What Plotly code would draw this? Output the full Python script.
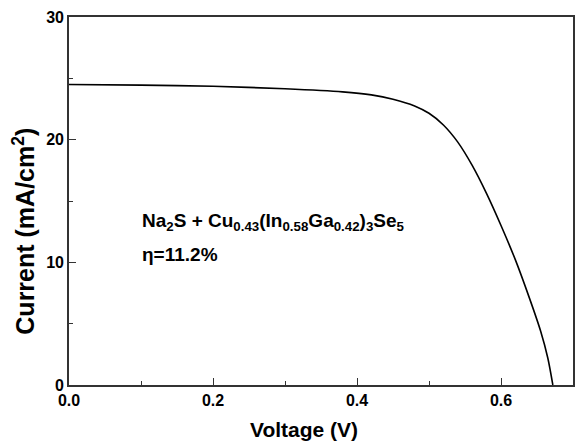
import plotly.graph_objects as go

voltage = [0.0, 0.1, 0.2, 0.3, 0.38, 0.42, 0.45, 0.48, 0.50, 0.52, 0.54, 0.56, 0.58, 0.60, 0.62, 0.64, 0.655, 0.665, 0.672]
current = [24.5, 24.45, 24.35, 24.15, 23.9, 23.65, 23.3, 22.75, 22.15, 21.2, 19.8, 17.9, 15.6, 13.0, 10.2, 7.0, 4.4, 2.2, 0.0]

fig = go.Figure()
fig.add_trace(go.Scatter(x=voltage, y=current, mode="lines",
                         line=dict(color="black", width=1.6, shape="spline", smoothing=0.8),
                         showlegend=False))

font = dict(family="Liberation Sans, Arial", color="black")
axis_common = dict(showline=True, linecolor="#333", linewidth=1.6, mirror=True,
                   ticks="inside", ticklen=7, tickwidth=1.2, tickcolor="#333",
                   showgrid=False, zeroline=False,
                   tickfont=dict(family="Liberation Sans, Arial", size=16, color="black", weight="bold"))

fig.update_xaxes(range=[0, 0.7], dtick=0.2, tickformat=".1f",
                 minor=dict(dtick=0.1, ticks="inside", ticklen=4, tickcolor="#333"),
                 **axis_common)
fig.update_yaxes(range=[0, 30], dtick=10,
                 minor=dict(dtick=5, ticks="inside", ticklen=4, tickcolor="#333"),
                 **axis_common)

fig.add_annotation(x=0.466, y=-0.122, xref="paper", yref="paper", xanchor="center", yanchor="middle",
                   showarrow=False, text="<b>Voltage (V)</b>", font=dict(size=21, **font))
fig.add_annotation(x=-0.091, y=0.417, xref="paper", yref="paper", xanchor="center", yanchor="middle",
                   showarrow=False, textangle=-90,
                   text="<b>Current (mA/cm<sup>2</sup>)</b>", font=dict(size=25, **font))

fig.add_annotation(x=0.098, y=13.3, xref="x", yref="y", xanchor="left", yanchor="middle",
                   showarrow=False,
                   text="<b>Na<sub>2</sub>S + Cu<sub>0.43</sub>(In<sub>0.58</sub>Ga<sub>0.42</sub>)<sub>3</sub>Se<sub>5</sub></b>",
                   font=dict(size=19, **font))
fig.add_annotation(x=0.098, y=10.6, xref="x", yref="y", xanchor="left", yanchor="middle",
                   showarrow=False, text="<b>η=11.2%</b>", font=dict(size=19, **font))

fig.update_layout(width=584, height=444, margin=dict(l=69, r=9, t=13, b=59),
                  plot_bgcolor="white", paper_bgcolor="white", font=font)
fig.write_html("out.html")
